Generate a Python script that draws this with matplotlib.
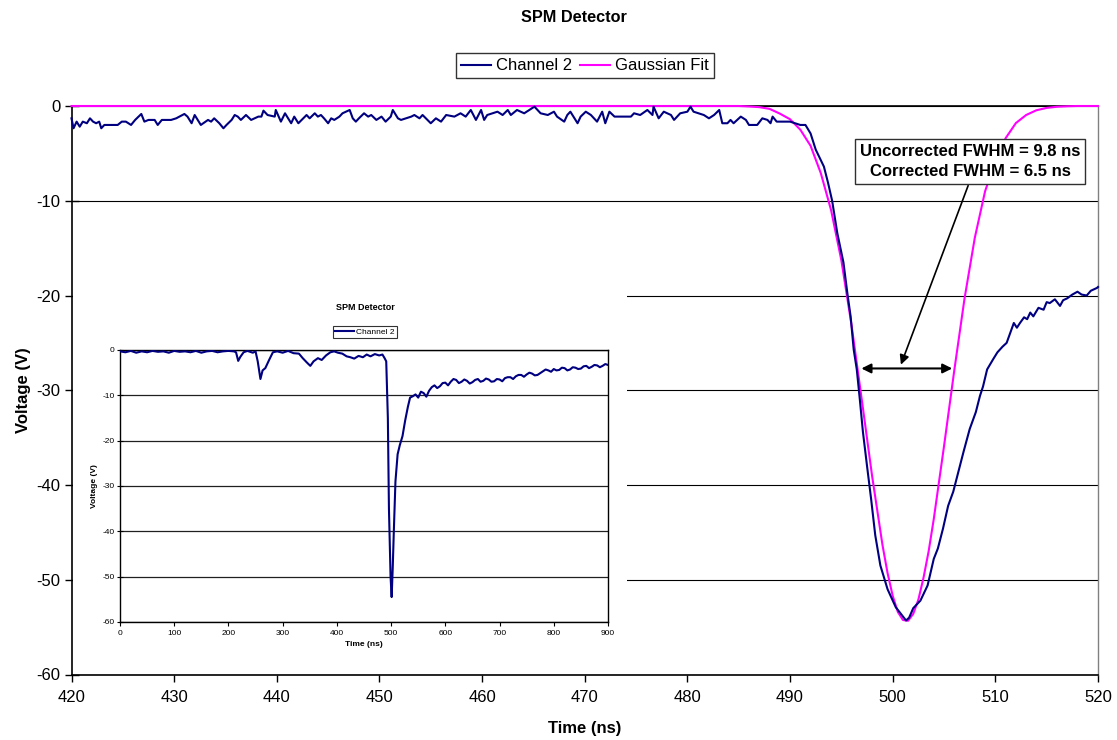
import matplotlib
matplotlib.use("Agg")
import matplotlib.pyplot as plt
import numpy as np

plt.rcParams['font.family'] = ['Liberation Sans', 'DejaVu Sans']
plt.rcParams['axes.unicode_minus'] = False

# ---------------- data: main chart ----------------
ch2_time = [420.0, 420.2, 420.5, 420.8, 421.1, 421.5, 421.8, 422.1, 422.4, 422.7, 422.9, 423.2, 424.5, 424.9, 425.3, 425.8,
            426.2, 426.8, 427.1, 427.5, 428.1, 428.4, 428.8, 429.7, 430.2, 431.0, 431.3, 431.7, 432.0, 432.3, 432.6,
            433.3, 433.6, 433.9, 434.4, 434.8, 435.1, 435.6, 435.9, 436.2, 436.5, 437.0, 437.5, 438.2, 438.5, 438.7,
            439.1, 439.8, 439.9, 440.4, 440.8, 441.4, 441.7, 442.1, 442.9, 443.2, 443.7, 444.0, 444.3, 444.6, 445.0,
            445.3, 445.6, 446.1, 446.4, 447.1, 447.4, 447.7, 448.0, 448.5, 448.9, 449.2, 449.7, 450.2, 450.6, 451.1,
            451.3, 451.8, 452.1, 453.1, 453.4, 453.9, 454.2, 455.0, 455.5, 456.0, 456.5, 457.3, 457.9, 458.4, 458.9,
            459.4, 459.9, 460.2, 460.5, 461.5, 462.0, 462.5, 462.8, 463.4, 464.1, 465.1, 465.7, 466.4, 467.0, 467.3,
            468.0, 468.3, 468.6, 469.3, 469.6, 470.1, 470.6, 471.2, 471.7, 472.0, 472.4, 472.9, 474.5, 474.8, 475.4,
            476.1, 476.6, 476.7, 477.2, 477.7, 478.4, 478.7, 479.3, 480.0, 480.3, 480.6, 481.6, 482.1, 482.6, 483.1,
            483.4, 483.9, 484.2, 484.5, 485.2, 485.7, 486.0, 486.8, 487.3, 487.8, 488.1, 488.3, 488.7, 490.0, 491.0,
            491.5, 492.0, 492.5, 493.3, 493.7, 494.1, 494.6, 495.2, 495.6, 495.9, 496.2, 496.5, 496.8, 497.1, 497.5,
            497.9, 498.3, 498.8, 499.5, 500.3, 500.8, 501.3, 501.6, 502.0, 502.7, 503.4, 504.0, 504.4, 504.9, 505.4,
            505.9, 506.4, 506.9, 507.5, 508.1, 508.5, 508.8, 509.2, 509.8, 510.2, 510.7, 511.1, 511.5, 511.8, 512.1,
            512.4, 512.8, 513.1, 513.4, 513.7, 514.2, 514.7, 515.0, 515.3, 515.8, 516.3, 516.6, 517.0, 517.5, 518.0,
            518.4, 518.9, 519.3, 519.9, 520.0]
ch2_volt = [-1.3, -2.35, -1.65, -2.18, -1.65, -1.82, -1.30, -1.65, -1.82, -1.65, -2.35, -2.0, -2.0, -1.65, -1.65, -2.0,
            -1.47, -0.84, -1.65, -1.47, -1.47, -2.0, -1.47, -1.47, -1.30, -0.84, -1.12, -1.82, -0.95, -1.47, -2.0,
            -1.47, -1.65, -1.30, -1.82, -2.35, -2.0, -1.47, -0.95, -1.12, -1.47, -0.95, -1.47, -1.12, -1.12, -0.49,
            -0.95, -1.12, -0.42, -1.65, -0.77, -1.82, -1.12, -1.82, -0.95, -1.30, -0.77, -1.12, -0.95, -1.30, -1.82,
            -1.30, -1.47, -1.12, -0.77, -0.42, -1.30, -1.65, -1.30, -0.77, -1.12, -0.95, -1.47, -1.12, -1.65, -1.12,
            -0.42, -1.30, -1.47, -1.12, -0.95, -1.30, -0.95, -1.82, -1.30, -1.65, -0.95, -1.12, -0.77, -1.12, -0.42,
            -1.47, -0.42, -1.47, -0.95, -0.60, -0.95, -0.42, -0.95, -0.42, -0.77, -0.07, -0.77, -0.95, -0.60, -1.12,
            -1.65, -0.95, -0.60, -1.82, -1.12, -0.60, -0.95, -1.65, -0.60, -1.82, -0.60, -1.12, -1.12, -0.77, -0.95,
            -0.42, -0.95, -0.07, -1.30, -0.60, -0.95, -1.47, -0.77, -0.60, -0.07, -0.60, -0.95, -1.30, -0.95, -0.42,
            -1.82, -1.82, -1.47, -1.82, -1.12, -1.47, -2.0, -2.0, -1.30, -1.47, -1.82, -1.12, -1.65, -1.65, -2.0,
            -2.0, -2.9, -4.6, -6.4, -8.1, -10.0, -13.4, -16.5, -19.9, -22.2, -25.7, -27.8, -31.0, -34.4, -38.0,
            -41.5, -45.3, -48.5, -51.0, -52.9, -53.6, -54.3, -54.0, -53.0, -52.2, -50.6, -47.8, -46.7, -44.6, -42.2,
            -40.7, -38.6, -36.5, -34.1, -32.3, -30.6, -29.6, -27.8, -26.7, -26.0, -25.4, -25.0, -23.8, -22.9, -23.4,
            -22.9, -22.3, -22.5, -21.8, -22.2, -21.3, -21.5, -20.7, -20.8, -20.4, -21.1, -20.5, -20.3, -19.9, -19.6,
            -19.9, -20.0, -19.5, -19.2, -19.1]

fit_time = [420, 485, 486, 487, 488, 489, 490, 491, 492, 493, 494, 495, 496, 497, 498, 499, 499.5, 500, 500.5,
            501, 501.5, 502, 502.5, 503, 503.5, 504, 505, 506, 507, 508, 509, 510, 511, 512, 513, 514, 515, 516,
            517, 518, 520]
fit_volt = [0.0, 0.0, -0.05, -0.12, -0.3, -0.8, -1.4, -2.5, -4.2, -7.1, -11.0, -16.3, -23.2, -31.1, -39.1, -46.3,
            -49.3, -51.7, -53.4, -54.25, -54.33, -53.6, -52.1, -49.8, -47.0, -43.6, -35.9, -27.9, -20.3, -13.9, -9.0,
            -5.8, -3.4, -1.8, -0.95, -0.45, -0.2, -0.08, -0.03, 0.0, 0.0]

# ---------------- data: inset chart ----------------
inset_time = [0, 10, 20, 30, 40, 50, 60, 70, 80, 90, 100, 110, 120, 130, 140, 150, 160, 170, 180, 190, 200, 210, 214,
              218, 222, 228, 235, 245, 250, 254, 259, 263, 268, 275, 282, 290, 300, 310, 320, 330, 337, 345, 351,
              357, 365, 372, 380, 388, 395, 402, 410, 418, 425, 432, 440, 448, 455, 462, 470, 478, 484, 488, 491,
              494, 496, 499, 501, 503, 505, 508, 512, 516, 521, 526, 531, 535, 540, 545, 550, 555, 560, 565, 570,
              575, 580, 585, 590, 595, 600, 605, 610, 615, 620, 625, 630, 635, 640, 645, 650, 655, 660, 665, 670, 675,
              680, 685, 690, 695, 700, 705, 710, 715, 720, 725, 730, 735, 740, 745, 750, 755, 760, 765, 770, 775,
              780, 785, 790, 795, 800, 805, 810, 815, 820, 825, 830, 835, 840, 845, 850, 855, 860, 865, 870, 875,
              880, 885, 890, 895, 900]
inset_volt = [-0.3, -0.5, -0.2, -0.6, -0.3, -0.5, -0.2, -0.4, -0.3, -0.6, -0.2, -0.4, -0.3, -0.5, -0.2, -0.6, -0.3,
              -0.2, -0.5, -0.3, -0.2, -0.3, -0.5, -2.4, -1.5, -0.5, -0.2, -0.6, -0.3, -2.5, -6.4, -4.5, -4.0, -2.2,
              -0.5, -0.3, -0.6, -0.2, -0.7, -0.8, -1.8, -2.8, -3.5, -2.5, -1.8, -2.2, -1.2, -0.5, -0.3, -0.6, -0.8,
              -1.4, -1.6, -1.9, -1.3, -1.6, -1.0, -1.4, -0.9, -1.2, -1.0, -1.8, -2.5, -15.0, -35.0, -50.0, -54.5,
              -48.0, -40.0, -29.0, -23.0, -21.0, -19.0, -15.5, -12.5, -10.5, -10.2, -9.8, -10.5, -9.2, -9.5, -10.3,
              -9.0, -8.2, -7.8, -8.4, -8.0, -7.3, -7.2, -7.8, -7.0, -6.4, -6.6, -7.3, -7.0, -6.5, -6.8, -7.4, -7.1,
              -6.6, -6.4, -7.0, -6.8, -6.3, -6.5, -7.0, -6.9, -6.4, -6.5, -6.9, -6.2, -6.0, -6.0, -6.4, -5.8, -5.5,
              -5.5, -5.9, -5.4, -5.0, -5.2, -5.6, -5.5, -5.1, -4.7, -4.3, -4.5, -4.8, -4.2, -4.5, -4.4, -3.9, -4.0,
              -4.5, -4.3, -3.8, -3.9, -4.2, -4.1, -3.6, -3.5, -4.0, -3.7, -3.3, -3.4, -3.8, -3.5, -3.1, -3.3]

main_xticks = [420, 430, 440, 450, 460, 470, 480, 490, 500, 510, 520]
main_yticks = [0, -10, -20, -30, -40, -50, -60]
inset_xticks = [0, 100, 200, 300, 400, 500, 600, 700, 800, 900]
inset_yticks = [0, -10, -20, -30, -40, -50, -60]

NAVY = '#000080'
MAGENTA = '#FF00FF'

W, H = 1117, 740
fig = plt.figure(figsize=(W / 100, H / 100), dpi=100)


def frect(x0, y0, x1, y1):
    return [x0 / W, 1 - y1 / H, (x1 - x0) / W, (y1 - y0) / H]


# ---------------- main axes ----------------
AX_L, AX_T, AX_R, AX_B = 71.5, 106, 1098, 674.5
ax = fig.add_axes(frect(AX_L, AX_T, AX_R, AX_B))
ax.set_zorder(0)
ax.plot(ch2_time, ch2_volt, color=NAVY, lw=1.5, label='Channel 2', zorder=4, clip_on=False)
ax.plot(fit_time, fit_volt, color=MAGENTA, lw=1.5, label='Gaussian Fit', zorder=3, clip_on=False)
ax.set_xlim(420, 520)
ax.set_ylim(-60, 0)
ax.set_xticks(main_xticks)
ax.set_yticks(main_yticks)
ax.tick_params(axis='y', direction='inout', length=10, width=1, labelsize=12, pad=3, colors='black')
ax.tick_params(axis='x', direction='out', length=5, width=1, labelsize=12, pad=6, colors='black')
ax.yaxis.grid(True, color='black', lw=0.8)
ax.set_axisbelow(True)
for s in ['left', 'bottom', 'top']:
    ax.spines[s].set_color('black')
    ax.spines[s].set_linewidth(1.2)
ax.spines['right'].set_color('#808080')
ax.spines['right'].set_linewidth(1.0)
ax.set_xlabel('Time (ns)', fontsize=12, fontweight='bold', labelpad=12)
ax.set_ylabel('Voltage (V)', fontsize=12, fontweight='bold', labelpad=4)

fig.text(574 / W, 1 - 17 / H, 'SPM Detector', ha='center', va='center', fontsize=11.7, fontweight='bold')
leg = ax.legend(loc='center', bbox_to_anchor=((585 - AX_L) / (AX_R - AX_L), 1 + (AX_T - 66) / (AX_B - AX_T)),
                ncol=2, frameon=True, fancybox=False, edgecolor='black', fontsize=12, handlelength=1.8,
                handletextpad=0.3, columnspacing=0.5, borderpad=0.3, borderaxespad=0)
leg.get_frame().set_linewidth(1.0)

# annotation
ax.annotate('', xy=(496.95, -27.7), xytext=(505.8, -27.7),
            arrowprops=dict(arrowstyle='<|-|>', color='black', lw=1.5, mutation_scale=14, shrinkA=0, shrinkB=0),
            zorder=6)
ax.annotate('', xy=(500.8, -27.3), xytext=(507.35, -8.4),
            arrowprops=dict(arrowstyle='-|>', color='black', lw=1.2, mutation_scale=14, shrinkA=0, shrinkB=0),
            zorder=6)
ax.text(507.55, -5.84, 'Uncorrected FWHM = 9.8 ns\nCorrected FWHM = 6.5 ns', ha='center', va='center',
        fontsize=12, fontweight='bold', linespacing=1.45, zorder=7,
        bbox=dict(boxstyle='square,pad=0.3', facecolor='white', edgecolor='#303030', lw=1.0))

# ---------------- inset white background ----------------
bg = fig.add_axes(frect(73, 287, 627, 660))
bg.set_zorder(1)
bg.set_facecolor('white')
bg.set_xticks([])
bg.set_yticks([])
for s in bg.spines.values():
    s.set_visible(False)

# ---------------- inset axes ----------------
ins = fig.add_axes(frect(120, 350, 608, 622))
ins.set_zorder(2)
ins.plot(inset_time, inset_volt, color=NAVY, lw=1.5, label='Channel 2', zorder=3)
ins.set_xlim(0, 900)
ins.set_ylim(-60, 0)
ins.set_xticks(inset_xticks)
ins.set_yticks(inset_yticks)
ins.tick_params(axis='y', direction='inout', length=4, width=0.8, labelsize=6, pad=2)
ins.tick_params(axis='x', direction='out', length=3, width=0.8, labelsize=6, pad=3)
ins.yaxis.grid(True, color='#202020', lw=0.9)
ins.set_axisbelow(True)
for s in ins.spines.values():
    s.set_color('black')
    s.set_linewidth(1.0)
ins.set_xlabel('Time (ns)', fontsize=6, fontweight='bold', labelpad=3)
ins.set_ylabel('Voltage (V)', fontsize=6, fontweight='bold', labelpad=3)
fig.text(365 / W, 1 - 308 / H, 'SPM Detector', ha='center', va='center', fontsize=6.5, fontweight='bold', zorder=5)
ileg = ins.legend(loc='center', bbox_to_anchor=((365 - 120) / 488, 1 + (350 - 332) / 272), frameon=True,
                  fancybox=False, edgecolor='black', fontsize=6, handlelength=2.2, handletextpad=0.3,
                  borderpad=0.3, borderaxespad=0)
ileg.get_frame().set_linewidth(0.8)

fig.savefig('out.png', dpi=100, facecolor='white')
